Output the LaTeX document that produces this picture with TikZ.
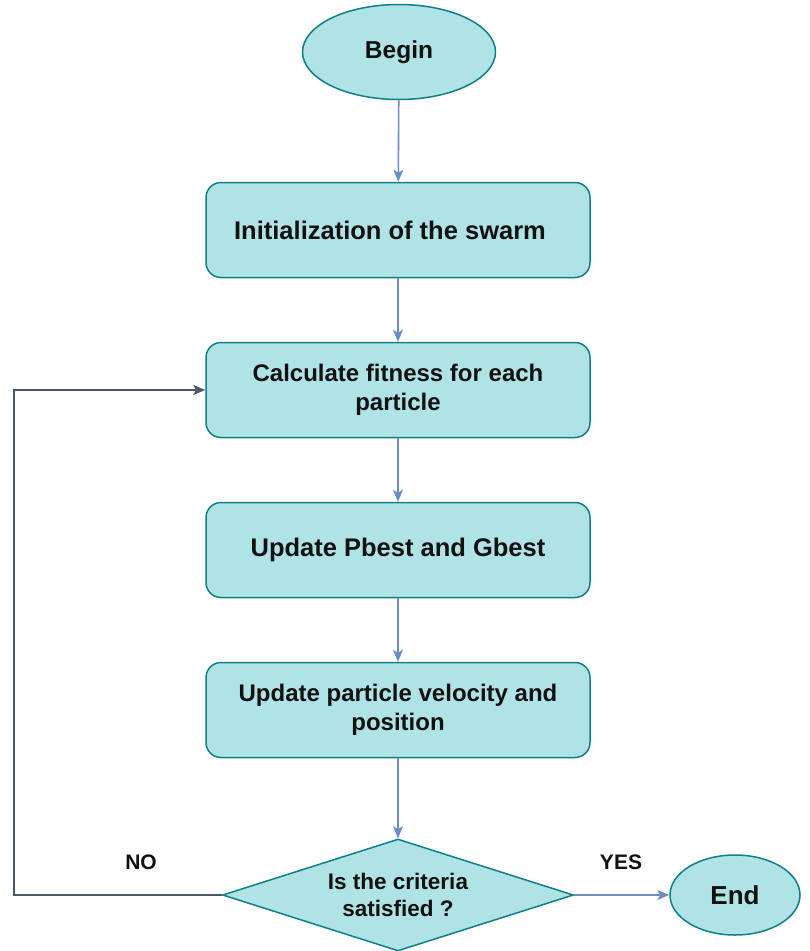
\documentclass[tikz,border=0pt]{standalone}
\usepackage{fontspec}
\setmainfont{Liberation Sans}
\usetikzlibrary{shapes.geometric,arrows.meta}

\definecolor{boxfill}{HTML}{B0E3E6}
\definecolor{boxline}{HTML}{0E8088}
\definecolor{flowline}{HTML}{6C8EBF}
\definecolor{loopline}{HTML}{4A5766}
\definecolor{ink}{HTML}{111111}

\tikzset{
  base/.style={draw=boxline, fill=boxfill, line width=1.5pt, text=ink,
    font=\bfseries, inner sep=0pt, align=center},
  terminal/.style={base, ellipse},
  stepbox/.style={base, rectangle, rounded corners=15pt,
    minimum width=384pt, minimum height=95pt},
  decision/.style={base, diamond, aspect=3.13,
    minimum width=351pt, minimum height=112pt},
  flow/.style={draw=flowline, line width=1.6pt,
    -{Stealth[length=12pt, width=10pt, inset=3pt]}},
  loop/.style={draw=loopline, line width=1.8pt,
    -{Stealth[length=12pt, width=10pt, inset=3pt]}},
  tag/.style={text=ink, font=\bfseries\fontsize{21}{25}\selectfont, inner sep=0pt}
}

\begin{document}
\begin{tikzpicture}[x=1pt, y=-1pt]
  \useasboundingbox (0,0) rectangle (810,951);

  % main column of the flow chart
  \node[terminal, minimum width=193pt, minimum height=95pt,
        font=\bfseries\fontsize{24.5}{29}\selectfont] (begin) at (399,52) {Begin};
  \node[stepbox, font=\bfseries\fontsize{25.5}{30}\selectfont] (init) at (398,230)
    {Initialization of the swarm\hspace*{16pt}};
  \node[stepbox, font=\bfseries\fontsize{24}{29}\selectfont] (fit) at (398,390)
    {Calculate fitness for each\\particle};
  \node[stepbox, font=\bfseries\fontsize{25.5}{30}\selectfont] (best) at (398,550)
    {Update Pbest and Gbest};
  \node[stepbox, font=\bfseries\fontsize{24}{29}\selectfont] (move) at (398,710)
    {Update particle velocity and\\position};
  \node[decision, font=\bfseries\fontsize{22.5}{27}\selectfont] (check) at (398,895)
    {Is the criteria\\satisfied ?};
  \node[terminal, minimum width=130pt, minimum height=80pt,
        font=\bfseries\fontsize{26}{31}\selectfont] (end) at (735,895) {End};

  % forward connectors
  \draw[flow] (begin) -- (init);
  \draw[flow] (init) -- (fit);
  \draw[flow] (fit) -- (best);
  \draw[flow] (best) -- (move);
  \draw[flow] (move) -- (check);
  \draw[flow] (check.east) -- (end.west);

  % loop back when the criteria are not met
  \coordinate (lowleft) at (14,895);
  \coordinate (upleft) at (14,390);
  \draw[loop] (check.west) -- (lowleft) -- (upleft) -- (fit.west);

  % branch labels
  \node[tag] (no) at (141,862) {NO};
  \node[tag] (yes) at (621,862) {YES};
\end{tikzpicture}
\end{document}
